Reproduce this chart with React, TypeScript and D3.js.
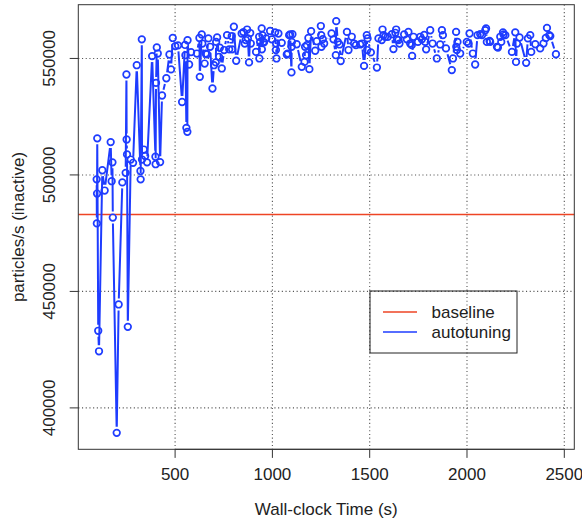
import React from 'react';
import * as d3 from 'd3';

const times: number[] = [
  97, 98, 99, 100, 105, 109, 126, 138, 169, 174, 178, 180, 200, 210, 229, 246, 250, 251, 253, 257,
  272, 284, 303, 322, 323, 329, 330, 339, 346, 356, 382, 399, 400, 402, 406, 411, 423, 433, 455, 471,
  479, 488, 501, 515, 536, 551, 553, 558, 563, 564, 572, 582, 612, 625, 627, 637, 640, 652, 657, 664,
  671, 680, 692, 700, 709, 711, 716, 726, 730, 740, 752, 767, 778, 791, 793, 802, 814, 842, 851, 858,
  863, 870, 874, 880, 886, 889, 916, 932, 933, 937, 945, 946, 949, 954, 957, 968, 988, 997, 1014, 1018,
  1019, 1021, 1031, 1048, 1074, 1079, 1086, 1091, 1098, 1099, 1100, 1103, 1125, 1151, 1165, 1168, 1173, 1177, 1185, 1190,
  1199, 1220, 1228, 1249, 1251, 1252, 1259, 1266, 1304, 1314, 1326, 1328, 1336, 1345, 1351, 1383, 1391, 1408, 1420, 1429,
  1451, 1460, 1471, 1485, 1487, 1489, 1506, 1537, 1545, 1562, 1566, 1571, 1579, 1593, 1614, 1622, 1632, 1636, 1640, 1648,
  1653, 1677, 1691, 1699, 1708, 1716, 1718, 1725, 1748, 1760, 1768, 1780, 1785, 1790, 1811, 1823, 1845, 1862, 1871, 1876,
  1892, 1922, 1928, 1944, 1945, 1948, 1951, 1965, 1999, 2008, 2013, 2030, 2042, 2054, 2068, 2077, 2094, 2098, 2102, 2116,
  2119, 2154, 2159, 2171, 2176, 2185, 2188, 2197, 2231, 2248, 2252, 2257, 2270, 2304, 2313, 2325, 2330, 2351, 2376, 2393,
  2405, 2411, 2423, 2428, 2457,
];

const values: number[] = [
  498100, 479200, 492000, 515700, 433100, 424300, 502000, 493300, 514100, 497300, 505400, 481700, 389300, 444400, 496800, 500900, 543100, 515200, 508800, 434800,
  506600, 505200, 547100, 501700, 498100, 558200, 506600, 510900, 508100, 505400, 551000, 507800, 504600, 539500, 554700, 552100, 505500, 534100, 541500, 551700,
  545300, 558800, 555300, 555600, 531300, 555800, 551400, 520200, 518500, 557800, 547400, 552700, 552100, 558800, 542100, 560300, 556400, 547800, 552100, 551800,
  558600, 555000, 537100, 547100, 548300, 557100, 559000, 550700, 554600, 545700, 553600, 560000, 553900, 559600, 553900, 563600, 549000, 560700, 561300, 556400,
  557900, 562400, 558600, 548300, 560900, 556400, 552800, 559300, 550000, 557100, 562900, 553900, 560000, 557100, 556900, 558600, 561800, 558200, 561200, 553600,
  556400, 550000, 560700, 556700, 551700, 552100, 560000, 560300, 544000, 555000, 557100, 560400, 556100, 546400, 548500, 555000, 551400, 555700, 558800, 545400,
  561700, 553300, 557400, 563900, 560000, 555000, 558300, 556400, 560700, 558200, 551400, 566000, 557100, 556000, 548900, 561400, 553600, 559300, 556400, 555700,
  556000, 556400, 546800, 560000, 553600, 558600, 552600, 546100, 558600, 557900, 562400, 560000, 559300, 559300, 560400, 554000, 561000, 562400, 558200, 557900,
  556400, 560300, 558200, 561400, 556400, 555700, 551100, 559300, 557100, 559300, 558200, 560100, 557100, 553900, 562100, 556400, 550000, 556000, 562100, 560000,
  554300, 545000, 550000, 561400, 555000, 553600, 557100, 552100, 557100, 556400, 560700, 552100, 547400, 560000, 560400, 560000, 562100, 562900, 557100, 557500,
  557100, 555000, 554700, 559300, 557100, 561200, 560300, 560000, 552800, 561200, 548500, 556400, 559000, 548100, 558600, 560000, 552800, 556100, 554300, 556400,
  558800, 563100, 560000, 559600, 551800,
];

const baselineValue = 483000;
const xTicks = [500, 1000, 1500, 2000, 2500];
const yTicks = [400000, 450000, 500000, 550000];
const legendLabels = ['baseline', 'autotuning'];
const xTitle = 'Wall-clock Time (s)';
const yTitle = 'particles/s (inactive)';

const BLUE = '#1e3cff';
const RED = '#ee4424';
const FONT = '"Liberation Sans", Arial, Helvetica, sans-serif';

function rExtent(arr: number[]): [number, number] {
  const [a, b] = d3.extent(arr) as [number, number];
  const r = b - a;
  return [a - 0.04 * r, b + 0.04 * r];
}

export default function App() {
  const W = 582;
  const H = 522;
  const left = 78.3, right = 574.3, top = 4.7, bottom = 449.3;
  const x = d3.scaleLinear().domain(rExtent(times)).range([left, right]);
  const y = d3.scaleLinear().domain(rExtent(values)).range([bottom, top]);

  const pts = times.map((t, i) => [x(t), y(values[i])] as [number, number]);
  const gap = 6;
  const path = d3.path();
  for (let i = 0; i < pts.length - 1; i++) {
    const [x1, y1] = pts[i];
    const [x2, y2] = pts[i + 1];
    const dx = x2 - x1, dy = y2 - y1;
    const d = Math.hypot(dx, dy);
    if (d > 2 * gap) {
      const ux = dx / d, uy = dy / d;
      path.moveTo(x1 + ux * gap, y1 + uy * gap);
      path.lineTo(x2 - ux * gap, y2 - uy * gap);
    }
  }

  const tick = 8.6;
  const grid = { stroke: '#555', strokeWidth: 1.1, strokeDasharray: '1.1,2.6' };
  const fs = 17;

  const legX = 370, legY = 291, legW = 147, legH = 62;

  return (
    <svg width={W} height={H} style={{ position: 'absolute', left: 0, top: 0, background: '#fff' }} fontFamily={FONT}>
      <rect x={0} y={0} width={W} height={H} fill="#fff" />
      {xTicks.map((t) => (
        <line key={'gx' + t} x1={x(t)} x2={x(t)} y1={top} y2={bottom} {...grid} />
      ))}
      {yTicks.map((t) => (
        <line key={'gy' + t} x1={left} x2={right} y1={y(t)} y2={y(t)} {...grid} />
      ))}
      <line x1={left} x2={right} y1={y(baselineValue)} y2={y(baselineValue)} stroke={RED} strokeWidth={1.5} />
      <path d={path.toString()} stroke={BLUE} strokeWidth={2} fill="none" />
      {pts.map(([px, py], i) => (
        <circle key={i} cx={px} cy={py} r={3.3} fill="none" stroke={BLUE} strokeWidth={1.7} />
      ))}
      <rect x={left} y={top} width={right - left} height={bottom - top} fill="none" stroke="#333" strokeWidth={1} />
      <line x1={x(xTicks[0])} x2={x(xTicks[xTicks.length - 1])} y1={bottom} y2={bottom} stroke="#333" />
      {xTicks.map((t) => (
        <g key={'xt' + t}>
          <line x1={x(t)} x2={x(t)} y1={bottom} y2={bottom + tick} stroke="#333" />
          <text x={x(t)} y={480} textAnchor="middle" fontSize={fs} fill="#222">{t}</text>
        </g>
      ))}
      {yTicks.map((t) => (
        <g key={'yt' + t}>
          <line x1={left - tick} x2={left} y1={y(t)} y2={y(t)} stroke="#333" />
          <text transform={`translate(55,${y(t)}) rotate(-90)`} textAnchor="middle" fontSize={fs} fill="#222">{t}</text>
        </g>
      ))}
      <text x={(left + right) / 2} y={515} textAnchor="middle" fontSize={fs} fill="#222">{xTitle}</text>
      <text transform={`translate(24,${(top + bottom) / 2}) rotate(-90)`} textAnchor="middle" fontSize={fs} fill="#222">{yTitle}</text>
      <rect x={legX} y={legY} width={legW} height={legH} fill="none" stroke="#222" strokeWidth={1} />
      {legendLabels.map((lab, i) => {
        const ly = legY + 21 + i * 20;
        return (
          <g key={lab}>
            <line x1={legX + 13} x2={legX + 47} y1={ly} y2={ly} stroke={i === 0 ? RED : BLUE} strokeWidth={1.5} />
            <text x={legX + 61.5} y={ly + 6} fontSize={fs} fill="#222">{lab}</text>
          </g>
        );
      })}
    </svg>
  );
}
